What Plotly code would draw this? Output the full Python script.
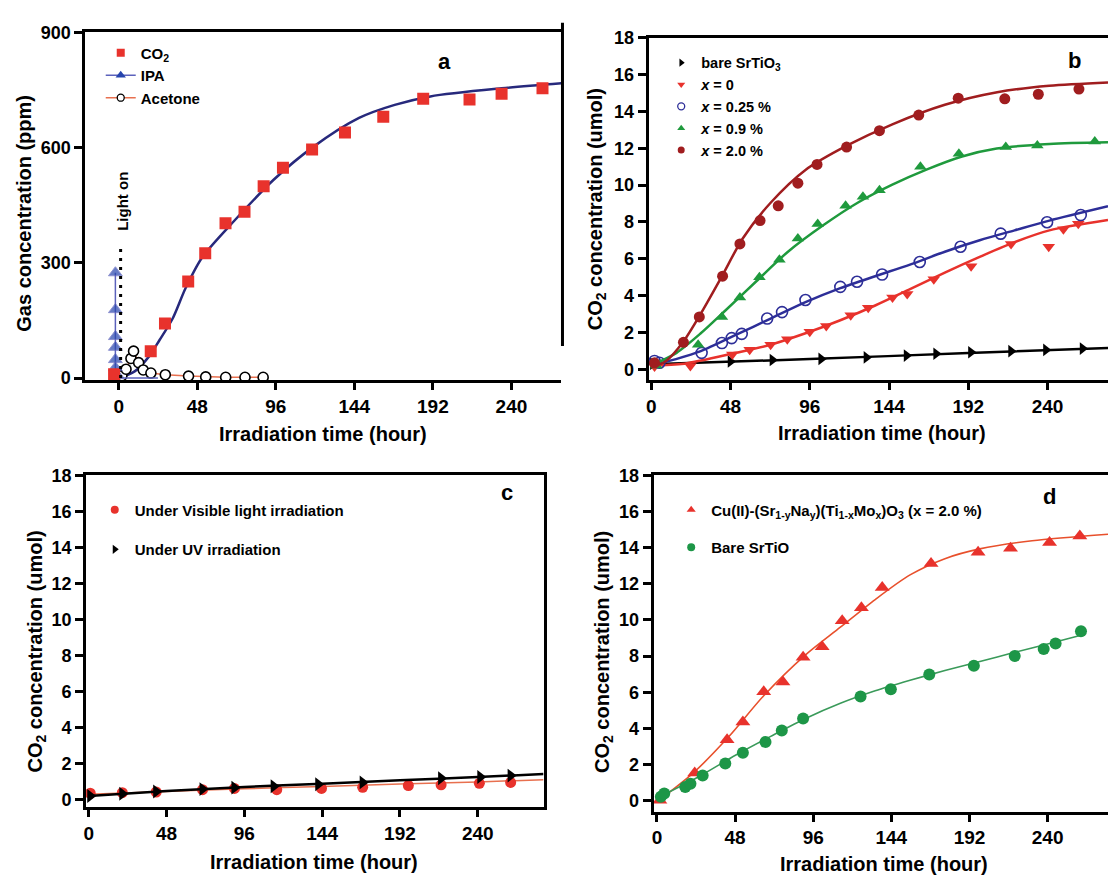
import plotly.graph_objects as go

W, H = 1108, 882
FONT = "Liberation Sans, Arial, sans-serif"

# ---------------- data ----------------
XTICKS = [0, 48, 96, 144, 192, 240]
YTICKS_A = [0, 300, 600, 900]
YTICKS_B = [0, 2, 4, 6, 8, 10, 12, 14, 16, 18]

# panel a
a_co2_x = [-2.8, 19.6, 28.3, 42.5, 52.9, 65.3, 76.9, 88.6, 100.4, 118.2, 138.3, 161.7, 186.1, 214.4, 234.0, 259.0]
a_co2_y = [10, 70, 142, 251, 325, 403, 433, 499, 547, 595, 639, 680, 727, 725, 740, 754]
a_fit_x = [0, 10, 18.7, 25, 33, 41, 51.2, 70.8, 94.7, 118.7, 146.9, 168.7, 190.5, 234, 270.5]
a_fit_y = [0, 18, 57, 99, 155, 235, 315, 410, 516, 601, 677, 711, 733, 754, 767]
a_ipa_x = [-2, -2, -2, -2, -2, -2, -1, 0, 12, 24]
a_ipa_y = [274, 178, 108, 80, 48, 27, 8, 0, 0, 0]
a_ace_x = [0, 2, 4.5, 7.5, 9.1, 12.2, 15, 19.7, 28.5, 42.7, 53.2, 65.4, 77.2, 88.3]
a_ace_y = [0, 6, 23, 51, 70, 40, 21, 13, 8.7, 5, 3, 2, 2, 2]
light_on_x = [1.2, 1.2]
light_on_y = [0, 350]

# panel b
b_bare_x = [1, 48, 73.4, 102.9, 130.3, 154.6, 172.5, 193.6, 217.9, 239, 261.2]
b_bare_y = [0.3, 0.42, 0.5, 0.56, 0.64, 0.74, 0.84, 0.92, 0.98, 1.05, 1.12]
b_bare_fit_x = [0, 96, 192, 276.6]
b_bare_fit_y = [0.27, 0.55, 0.88, 1.15]

b_x0_x = [2, 23.7, 49.1, 59.6, 72.3, 82.4, 96, 106, 120.8, 131.4, 146.1, 155, 171.1, 193.7, 217.9, 240.7, 249.6, 258.6]
b_x0_y = [0.15, 0.18, 0.8, 1.06, 1.33, 1.63, 2.04, 2.34, 2.93, 3.34, 3.9, 4.08, 4.88, 5.59, 6.8, 6.65, 7.6, 7.9]
b_x0_fit_x = [0, 20, 51.2, 72.3, 93.4, 114.5, 135.6, 156.7, 177.8, 198.9, 220, 241.1, 276.6]
b_x0_fit_y = [0.2, 0.3, 0.89, 1.33, 1.95, 2.66, 3.46, 4.35, 5.25, 6.1, 6.9, 7.54, 8.1]

b_x025_x = [2, 5, 30.5, 42.8, 48.7, 54.8, 70.2, 79.2, 93.4, 114.5, 124.6, 139.8, 162.6, 187.3, 211.6, 239.7, 260.1]
b_x025_y = [0.45, 0.35, 0.89, 1.42, 1.69, 1.92, 2.75, 3.1, 3.76, 4.47, 4.75, 5.14, 5.82, 6.65, 7.36, 7.98, 8.37]
b_x025_fit_x = [0, 15, 30, 51.2, 72.3, 93.4, 114.5, 135.6, 156.7, 177.8, 198.9, 220, 241.1, 276.6]
b_x025_fit_y = [0.2, 0.55, 0.98, 1.86, 2.75, 3.64, 4.4, 5.05, 5.68, 6.38, 7.0, 7.54, 8.07, 8.85]

b_x09_x = [3, 28.4, 42.8, 53.7, 65.5, 77.6, 88.8, 100.8, 117.7, 128.2, 138.2, 163, 186.3, 214.7, 233.8, 268.6]
b_x09_y = [0.2, 1.33, 2.84, 3.9, 5.0, 5.94, 7.1, 7.89, 8.87, 9.36, 9.72, 11.0, 11.7, 12.06, 12.15, 12.36]
b_x09_fit_x = [0, 15.3, 30, 44.9, 63.8, 82.8, 103.9, 125, 146, 167, 188.2, 209.2, 241.1, 276.6]
b_x09_fit_y = [0.2, 0.89, 1.95, 3.19, 4.79, 6.38, 7.8, 9.04, 10.02, 10.85, 11.55, 11.98, 12.23, 12.32]

b_x20_x = [2, 19.5, 29.1, 43.2, 53.7, 65.9, 76.9, 88.8, 100.4, 118.3, 138.2, 162, 185.9, 214.1, 234.4, 259]
b_x20_y = [0.35, 1.46, 2.84, 5.05, 6.8, 8.07, 8.87, 10.1, 11.12, 12.06, 12.95, 13.8, 14.72, 14.68, 14.93, 15.21]
b_x20_fit_x = [0, 9, 19.5, 30, 42.8, 55.4, 72.3, 93.4, 118.7, 146, 177.8, 209.5, 241, 276.6]
b_x20_fit_y = [0.1, 0.45, 1.51, 3.02, 5.05, 7.1, 9.04, 10.82, 12.15, 13.3, 14.36, 15.04, 15.39, 15.57]

# panel c
c_vis_x = [0.9, 20.7, 41.6, 70.2, 89.9, 116, 143.6, 169, 197.2, 217.4, 241, 260.3]
c_vis_y = [0.35, 0.38, 0.42, 0.55, 0.62, 0.55, 0.62, 0.68, 0.78, 0.82, 0.9, 0.95]
c_vis_fit_x = [0, 48, 96, 144, 192, 240, 280.6]
c_vis_fit_y = [0.3, 0.45, 0.6, 0.73, 0.86, 0.98, 1.1]
c_uv_x = [0.9, 20.7, 41.6, 70.2, 89.9, 114.1, 141.6, 169, 217.4, 241.6, 260.3]
c_uv_y = [0.2, 0.32, 0.45, 0.58, 0.66, 0.74, 0.85, 0.95, 1.18, 1.25, 1.33]
c_uv_fit_x = [0, 48, 96, 144, 192, 240, 280.6]
c_uv_fit_y = [0.2, 0.47, 0.7, 0.88, 1.07, 1.25, 1.42]

# panel d
d_cu_x = [1.8, 23.2, 43.1, 52.8, 65.6, 77.4, 89.8, 101.5, 113.8, 125.6, 138.4, 168.4, 197.3, 217.2, 241.2, 259.8]
d_cu_y = [0.03, 1.53, 3.37, 4.36, 6.03, 6.57, 7.94, 8.52, 9.96, 10.68, 11.8, 13.12, 13.75, 13.97, 14.29, 14.65]
d_cu_fit_x = [0.9, 22.7, 44.2, 65.6, 91.3, 112.7, 134.1, 155.5, 176.9, 198.3, 230.5, 277.1]
d_cu_fit_y = [0.0, 1.57, 3.55, 5.81, 8.07, 9.6, 11.13, 12.49, 13.39, 13.93, 14.38, 14.74]
d_bare_x = [2.4, 4.5, 17.4, 20.6, 28.1, 42, 52.8, 66.7, 76.7, 89.8, 125.1, 143.7, 167.3, 194.7, 219.8, 237.6, 244.9, 260.5]
d_bare_y = [0.22, 0.4, 0.76, 0.94, 1.39, 2.06, 2.65, 3.25, 3.88, 4.55, 5.77, 6.17, 6.98, 7.47, 8.01, 8.39, 8.7, 9.38]
d_bare_fit_x = [0, 5.6, 27, 48.5, 69.9, 91.3, 112.7, 134.1, 155.5, 176.9, 198.4, 219.8, 241.2, 260.5]
d_bare_fit_y = [0.15, 0.4, 1.4, 2.53, 3.56, 4.55, 5.39, 6.08, 6.66, 7.2, 7.7, 8.21, 8.7, 9.15]

# ---------------- colours ----------------
RED = "#e8322c"
NAVY = "#27297c"
BLUE_TRI = "#2644ad"
BLUE_LINE = "#5c62bc"
SALMON = "#e8704f"
DARKRED = "#a01d1f"
GREEN_B = "#1f9a3d"
BLUE_B = "#2d2e98"
GREEN_D = "#1d9647"
SMOOTH = 0.8

fig = go.Figure()


def px_x(p):
    return p / W


def px_y(p):
    return 1 - p / H


# ---------------- panel a ----------------
fig.add_trace(go.Scatter(x=a_fit_x, y=a_fit_y, mode="lines",
                         line=dict(color=NAVY, width=2.5, shape="spline", smoothing=SMOOTH),
                         xaxis="x", yaxis="y", showlegend=False))
fig.add_trace(go.Scatter(x=a_ace_x, y=a_ace_y, mode="lines+markers", line=dict(color=SALMON, width=1.5),
                         marker=dict(symbol="circle", size=10, color="white", line=dict(color="black", width=1.6)),
                         xaxis="x", yaxis="y", showlegend=False))
fig.add_trace(go.Scatter(x=a_ipa_x, y=a_ipa_y, mode="lines+markers", line=dict(color=BLUE_LINE, width=1.5),
                         marker=dict(symbol="triangle-up", size=[12, 12, 12, 12, 12, 12, 12, 0, 0, 0], color=BLUE_TRI),
                         xaxis="x", yaxis="y", showlegend=False))
fig.add_trace(go.Scatter(x=a_co2_x, y=a_co2_y, mode="markers",
                         marker=dict(symbol="square", size=12, color=RED),
                         xaxis="x", yaxis="y", showlegend=False))
fig.add_trace(go.Scatter(x=light_on_x, y=light_on_y, mode="lines",
                         line=dict(color="black", width=3, dash="3px,6px"),
                         xaxis="x", yaxis="y", showlegend=False))
# legend entries for a
fig.add_trace(go.Scatter(x=[None], y=[None], mode="markers", name="CO<sub>2</sub>",
                         marker=dict(symbol="square", size=8, color=RED), xaxis="x", yaxis="y", legend="legend"))
fig.add_trace(go.Scatter(x=[None], y=[None], mode="lines+markers", name="IPA",
                         line=dict(color=BLUE_LINE, width=1.5),
                         marker=dict(symbol="triangle-up", size=9, color=BLUE_TRI), xaxis="x", yaxis="y", legend="legend"))
fig.add_trace(go.Scatter(x=[None], y=[None], mode="lines+markers", name="Acetone",
                         line=dict(color=SALMON, width=1.5),
                         marker=dict(symbol="circle", size=7, color="white", line=dict(color="black", width=1.3)),
                         xaxis="x", yaxis="y", legend="legend"))

# ---------------- panel b ----------------
b_series = [
    (b_bare_x, b_bare_y, b_bare_fit_x, b_bare_fit_y, "black", dict(symbol="triangle-right", size=11, color="black"),
     "bare SrTiO<sub>3</sub>", dict(symbol="triangle-right", size=7, color="black")),
    (b_x0_x, b_x0_y, b_x0_fit_x, b_x0_fit_y, RED, dict(symbol="triangle-down", size=11, color=RED),
     "<i>x</i> = 0", dict(symbol="triangle-down", size=7, color=RED)),
    (b_x025_x, b_x025_y, b_x025_fit_x, b_x025_fit_y, BLUE_B,
     dict(symbol="circle-open", size=11, color=BLUE_B, line=dict(width=1.6)),
     "<i>x</i> = 0.25 %", dict(symbol="circle-open", size=7, color=BLUE_B, line=dict(width=1.3))),
    (b_x09_x, b_x09_y, b_x09_fit_x, b_x09_fit_y, GREEN_B, dict(symbol="triangle-up", size=11, color=GREEN_B),
     "<i>x</i> = 0.9 %", dict(symbol="triangle-up", size=7, color=GREEN_B)),
    (b_x20_x, b_x20_y, b_x20_fit_x, b_x20_fit_y, DARKRED, dict(symbol="circle", size=11, color=DARKRED),
     "<i>x</i> = 2.0 %", dict(symbol="circle", size=7, color=DARKRED)),
]
for xs, ys, fx, fy, col, mk, name, lmk in b_series:
    fig.add_trace(go.Scatter(x=fx, y=fy, mode="lines",
                             line=dict(color=col, width=2.5, shape="spline", smoothing=SMOOTH),
                             xaxis="x2", yaxis="y2", showlegend=False))
    fig.add_trace(go.Scatter(x=xs, y=ys, mode="markers", marker=mk, xaxis="x2", yaxis="y2", showlegend=False))
for xs, ys, fx, fy, col, mk, name, lmk in b_series:
    fig.add_trace(go.Scatter(x=[None], y=[None], mode="markers", marker=lmk, name=name,
                             xaxis="x2", yaxis="y2", legend="legend2"))

# ---------------- panel c ----------------
fig.add_trace(go.Scatter(x=c_vis_fit_x, y=c_vis_fit_y, mode="lines",
                         line=dict(color=SALMON, width=1.5, shape="spline", smoothing=SMOOTH),
                         xaxis="x3", yaxis="y3", showlegend=False))
fig.add_trace(go.Scatter(x=c_vis_x, y=c_vis_y, mode="markers", marker=dict(symbol="circle", size=11, color=RED),
                         xaxis="x3", yaxis="y3", showlegend=False))
fig.add_trace(go.Scatter(x=c_uv_fit_x, y=c_uv_fit_y, mode="lines",
                         line=dict(color="black", width=2.5, shape="spline", smoothing=SMOOTH),
                         xaxis="x3", yaxis="y3", showlegend=False))
fig.add_trace(go.Scatter(x=c_uv_x, y=c_uv_y, mode="markers", marker=dict(symbol="triangle-right", size=12, color="black"),
                         xaxis="x3", yaxis="y3", showlegend=False))
fig.add_trace(go.Scatter(x=[None], y=[None], mode="markers", name="Under Visible light irradiation",
                         marker=dict(symbol="circle", size=8, color=RED), legendgroup="c1",
                         xaxis="x3", yaxis="y3", legend="legend3"))
fig.add_trace(go.Scatter(x=[None], y=[None], mode="markers", name="Under UV irradiation",
                         marker=dict(symbol="triangle-right", size=8, color="black"), legendgroup="c2",
                         xaxis="x3", yaxis="y3", legend="legend3"))

# ---------------- panel d ----------------
fig.add_trace(go.Scatter(x=d_cu_fit_x, y=d_cu_fit_y, mode="lines",
                         line=dict(color="#e8502c", width=1.6, shape="spline", smoothing=SMOOTH),
                         xaxis="x4", yaxis="y4", showlegend=False))
fig.add_trace(go.Scatter(x=d_cu_x, y=d_cu_y, mode="markers", marker=dict(symbol="triangle-up", size=13, color=RED),
                         xaxis="x4", yaxis="y4", showlegend=False))
fig.add_trace(go.Scatter(x=d_bare_fit_x, y=d_bare_fit_y, mode="lines",
                         line=dict(color="#3a9a5a", width=1.6, shape="spline", smoothing=SMOOTH),
                         xaxis="x4", yaxis="y4", showlegend=False))
fig.add_trace(go.Scatter(x=d_bare_x, y=d_bare_y, mode="markers", marker=dict(symbol="circle", size=12, color=GREEN_D),
                         xaxis="x4", yaxis="y4", showlegend=False))
fig.add_trace(go.Scatter(x=[None], y=[None], mode="markers",
                         name="Cu(II)-(Sr<sub>1-y</sub>Na<sub>y</sub>)(Ti<sub>1-x</sub>Mo<sub>x</sub>)O<sub>3</sub> (x = 2.0 %)",
                         marker=dict(symbol="triangle-up", size=8, color=RED), legendgroup="d1",
                         xaxis="x4", yaxis="y4", legend="legend4"))
fig.add_trace(go.Scatter(x=[None], y=[None], mode="markers", name="Bare SrTiO",
                         marker=dict(symbol="circle", size=8, color=GREEN_D), legendgroup="d2",
                         xaxis="x4", yaxis="y4", legend="legend4"))

# ---------------- axes ----------------
TICKFONT_X = dict(family=FONT, size=19, color="black", weight="bold")
TICKFONT_Y = dict(family=FONT, size=18, color="black", weight="bold")


def xax(l, r, rng, anchor, mirror=True):
    return dict(domain=[px_x(l), min(1.0, px_x(r))], range=rng, anchor=anchor, tickmode="array",
                tickvals=XTICKS, showline=True, linewidth=3, linecolor="black", mirror=mirror,
                ticks="outside", ticklen=7, tickwidth=2.5, tickcolor="black", tickfont=TICKFONT_X,
                showgrid=False, zeroline=False, fixedrange=True)


def yax(top, bottom, rng, anchor, ticks, mirror=False):
    return dict(domain=[px_y(bottom), px_y(top)], range=rng, anchor=anchor, tickmode="array",
                tickvals=ticks, showline=True, linewidth=3, linecolor="black", mirror=mirror,
                ticks="outside", ticklen=8, tickwidth=2.5, tickcolor="black", tickfont=TICKFONT_Y,
                showgrid=False, zeroline=False, fixedrange=True)


LEG = dict(bgcolor="rgba(0,0,0,0)", borderwidth=0, xanchor="left", yanchor="top",
           itemclick=False, itemdoubleclick=False)

fig.update_layout(
    width=W, height=H, margin=dict(l=0, r=0, t=0, b=0),
    paper_bgcolor="white", plot_bgcolor="white",
    font=dict(family=FONT, color="black"),
    xaxis=xax(82.5, 560, [-20.4, 270.6], "y"),
    yaxis=yax(22.7, 377.7, [-5.1, 900], "x", YTICKS_A),
    xaxis2=xax(647.3, 1108, [-1.63, 276.6], "y2"),
    yaxis2=yax(28.3, 377.7, [-0.585, 18], "x2", YTICKS_B),
    xaxis3=xax(83.3, 542, [-1.66, 280.6], "y3"),
    yaxis3=yax(475, 814, [-0.435, 18], "x3", YTICKS_B, mirror=True),
    xaxis4=xax(652.5, 1108, [-1.96, 277.1], "y4"),
    yaxis4=yax(475, 818.3, [-0.6, 18], "x4", YTICKS_B),
    legend=dict(LEG, x=px_x(98), y=px_y(27), font=dict(family=FONT, size=15, color="black", weight="bold")),
    legend2=dict(LEG, x=px_x(660), y=px_y(37.5), font=dict(family=FONT, size=14.5, color="black", weight="bold")),
    legend3=dict(LEG, x=px_x(92), y=px_y(493.7), tracegroupgap=17,
                 font=dict(family=FONT, size=15, color="black", weight="bold")),
    legend4=dict(LEG, x=px_x(670), y=px_y(493.7), tracegroupgap=15,
                 font=dict(family=FONT, size=15, color="black", weight="bold")),
)

# ---------------- text ----------------
ann = []
TITLE_FONT = dict(family=FONT, size=20, color="black", weight="bold")
for txt, x, y in [("Irradiation time (hour)", 321, 433), ("Irradiation time (hour)", 881, 432),
                  ("Irradiation time (hour)", 312, 870), ("Irradiation time (hour)", 883, 872)]:
    ann.append(dict(text=txt, x=px_x(x), y=px_y(y), xref="paper", yref="paper", showarrow=False,
                    xanchor="center", yanchor="middle", font=TITLE_FONT))
for txt, x, y in [("Gas concentration (ppm)", 21, 207), ("CO<sub>2</sub> concentration (umol)", 595, 203),
                  ("CO<sub>2</sub> concentration (umol)", 34, 655), ("CO<sub>2</sub> concentration (umol)", 602, 655)]:
    ann.append(dict(text=txt, x=px_x(x), y=px_y(y), xref="paper", yref="paper", showarrow=False,
                    xanchor="center", yanchor="middle", textangle=-90, font=TITLE_FONT))
for txt, x, y in [("a", 443, 53), ("b", 1074, 52), ("c", 505, 493), ("d", 1049, 497)]:
    ann.append(dict(text=txt, x=px_x(x), y=px_y(y), xref="paper", yref="paper", showarrow=False,
                    xanchor="center", yanchor="middle", font=dict(family=FONT, size=22, color="black", weight="bold")))
ann.append(dict(text="Light on", x=2.6, y=461, xref="x", yref="y", showarrow=False, textangle=-90,
                xanchor="center", yanchor="middle", font=dict(family=FONT, size=15, color="black", weight="bold")))
fig.update_layout(annotations=ann)

# stray frame edge at the right of panel a
fig.add_shape(type="line", xref="paper", yref="paper", x0=px_x(561), x1=px_x(561), y0=px_y(13), y1=px_y(343),
              line=dict(color="black", width=3))

fig.write_html("out.html")
